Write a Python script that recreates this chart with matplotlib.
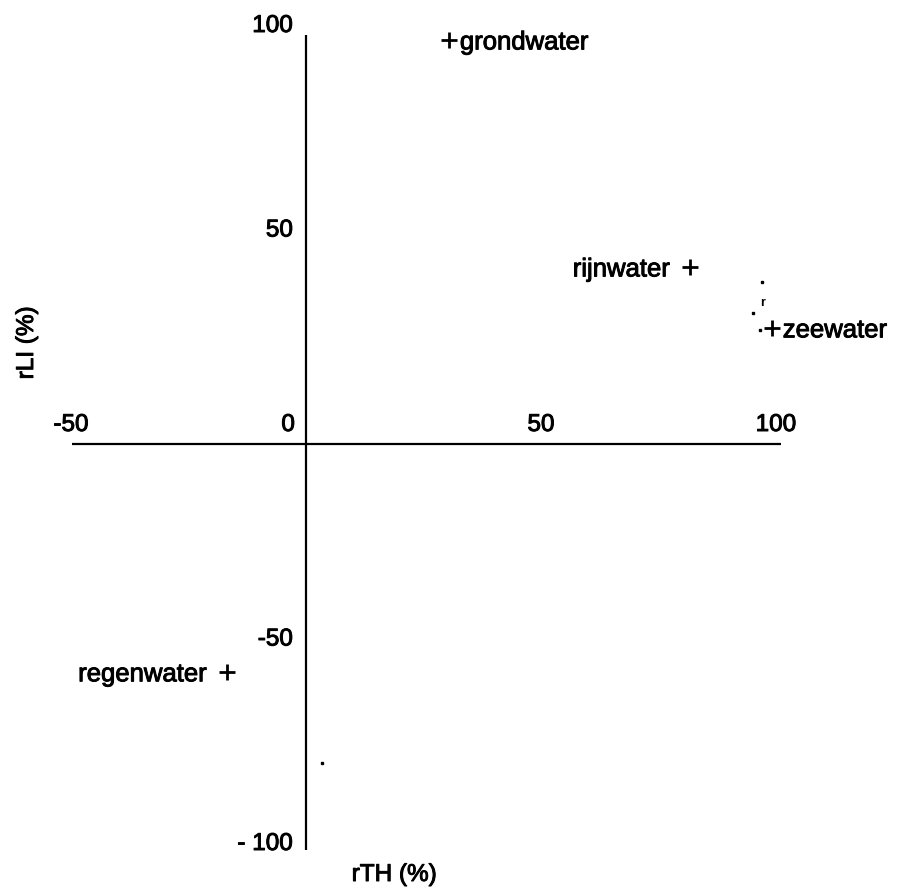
import matplotlib
matplotlib.use("Agg")
import matplotlib.pyplot as plt
import matplotlib.patheffects as pe

# ---- data ----
labels = ["grondwater", "rijnwater", "zeewater", "regenwater"]
rTH = [30.4, 81.7, 99.1, -16.8]
rLI = [98.8, 43.3, 28.4, -55.7]
label_side = ["right", "left", "right", "left"]

xticks = [-50, 50, 100]
yticks = [100, 50, -50, -100]

speck_x = [97.0, 95.1, 96.6, 3.4]
speck_y = [39.6, 32.0, 27.9, -78.0]

plt.rcParams['font.family'] = ['Liberation Sans', 'DejaVu Sans']
FS = 17.5
FL = 18.5
heavy = [pe.withStroke(linewidth=0.7, foreground='black')]

fig = plt.figure(figsize=(8.97, 8.90), dpi=100)
ax = fig.add_axes([0, 0, 1, 1])
W, H = 897, 890
x0px, sx = 306, 4.7
y0px, sy = 444, 4.09
ax.set_xlim(-x0px / sx, (W - x0px) / sx)
ax.set_ylim((y0px - H) / sy, y0px / sy)
ax.axis('off')

# axes lines
ax.plot([-49.8, 101], [0, 0], color='black', lw=1.6, solid_capstyle='butt')
ax.plot([0, 0], [-99.3, 100], color='black', lw=1.6, solid_capstyle='butt')

# tick labels
for v in xticks:
    ax.annotate(str(v), (v, 0), xytext=(0, 8), textcoords='offset pixels',
                ha='center', va='bottom', fontsize=FS, path_effects=heavy)
ax.annotate("0", (0, 0), xytext=(-11, 8), textcoords='offset pixels',
            ha='right', va='bottom', fontsize=FS, path_effects=heavy)
for v in yticks:
    ax.annotate('- 100' if v == -100 else str(v), (0, v),
                xytext=(-13, 9), textcoords='offset pixels',
                ha='right', va='center', fontsize=FS, path_effects=heavy)

# points
ax.plot(rTH, rLI, linestyle='none', marker='+', color='black', ms=11, mew=2.0)
for lab, x, y, side in zip(labels, rTH, rLI, label_side):
    if side == 'right':
        ax.annotate(lab, (x, y), xytext=(11, 0), textcoords='offset pixels',
                    ha='left', va='center_baseline', fontsize=FL, path_effects=heavy)
    else:
        ax.annotate(lab, (x, y), xytext=(-20, 0), textcoords='offset pixels',
                    ha='right', va='center_baseline', fontsize=FL, path_effects=heavy)

# scan specks
ax.plot(speck_x, speck_y, linestyle='none', marker='s', color='black', ms=1.8)
ax.text(97.2, 34.5, "r", fontsize=9, ha='center', va='center', fontweight='bold')

# axis titles
fig.text(394 / W, 1 - 875 / H, "rTH (%)", ha='center', va='center', fontsize=FS,
         path_effects=heavy)
fig.text(27 / W, 1 - 343 / H, "rLI (%)", ha='center', va='center', fontsize=FS,
         rotation=90, path_effects=heavy)

fig.savefig("out.png", dpi=100)
